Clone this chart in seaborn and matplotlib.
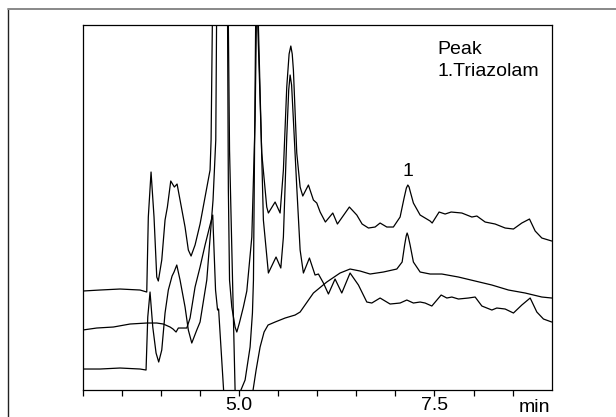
import numpy as np
import pandas as pd
import matplotlib
matplotlib.use("Agg")
import matplotlib.pyplot as plt
from matplotlib.lines import Line2D
import matplotlib.transforms as mtransforms
import seaborn as sns

# retention time (min) and detector signal (arbitrary units, axis bottom = 0)
# sample trace (top)
t_sample = [3.000, 3.221, 3.477, 3.733, 3.819, 3.839, 3.874, 3.912, 3.947, 3.967,
            4.011, 4.053, 4.083, 4.126, 4.172, 4.207, 4.245, 4.309, 4.351, 4.386,
            4.437, 4.501, 4.565, 4.629, 4.642, 4.658, 4.757, 4.853, 4.863, 4.878,
            4.907, 4.949, 4.971, 5.004, 5.055, 5.099, 5.163, 5.205, 5.221, 5.230,
            5.239, 5.290, 5.354, 5.375, 5.461, 5.525, 5.567, 5.610, 5.640, 5.662,
            5.680, 5.695, 5.738, 5.781, 5.815, 5.887, 5.951, 5.994, 6.037, 6.104,
            6.199, 6.258, 6.411, 6.506, 6.574, 6.655, 6.740, 6.804, 6.890, 6.974,
            7.060, 7.111, 7.140, 7.159, 7.175, 7.188, 7.230, 7.316, 7.444, 7.470,
            7.559, 7.636, 7.713, 7.850, 7.978, 8.042, 8.148, 8.276, 8.404, 8.510,
            8.617, 8.715, 8.788, 8.873, 9.000]
s_sample = [99, 100, 101, 100, 98, 173, 218, 173, 113, 109,
            130, 170, 183, 209, 203, 206, 190, 163, 140, 134,
            145, 166, 193, 220, 250, 365, 640, 365, 200, 110,
            83, 63, 58, 67, 83, 99, 153, 270, 365, 540,
            365, 237, 183, 177, 188, 177, 220, 303, 336, 344,
            336, 320, 237, 203, 194, 205, 190, 187, 178, 168,
            177, 166, 183, 175, 166, 162, 163, 167, 163, 163,
            173, 192, 202, 205, 203, 199, 187, 175, 169, 167,
            178, 176, 178, 177, 173, 174, 168, 166, 162, 161,
            167, 171, 159, 152, 149]

# gradient blank (middle)
t_blank = [3.000, 3.179, 3.392, 3.605, 3.819, 3.947, 4.031, 4.117, 4.155, 4.194,
           4.223, 4.331, 4.373, 4.437, 4.501, 4.565, 4.629, 4.663, 4.699, 4.725,
           4.738, 4.802, 4.987, 5.179, 5.218, 5.269, 5.320, 5.371, 5.461, 5.589,
           5.717, 5.781, 5.951, 6.122, 6.292, 6.420, 6.548, 6.676, 6.846, 7.018,
           7.086, 7.118, 7.138, 7.150, 7.163, 7.188, 7.230, 7.316, 7.444, 7.594,
           7.806, 8.020, 8.234, 8.446, 8.660, 8.873, 9.000]
s_blank = [60, 62, 63, 66, 67, 67, 66, 63, 61, 58,
           62, 62, 72, 103, 123, 145, 165, 175, 100, 80,
           81, 0, -110, 0, 20, 43, 58, 65, 68, 72,
           75, 78, 97, 108, 117, 121, 119, 116, 118, 121,
           128, 145, 154, 157, 154, 145, 128, 118, 116, 116,
           113, 109, 105, 100, 97, 93, 92]

# matrix blank (bottom)
t_matrix = [3.000, 3.221, 3.477, 3.733, 3.810, 3.832, 3.861, 3.896, 3.938, 3.972,
            4.011, 4.053, 4.095, 4.143, 4.168, 4.203, 4.245, 4.309, 4.351, 4.395,
            4.459, 4.501, 4.587, 4.667, 4.702, 4.712, 4.782, 4.863, 4.878, 4.949,
            4.981, 5.013, 5.077, 5.141, 5.171, 5.184, 5.199, 5.212, 5.230, 5.247,
            5.311, 5.375, 5.473, 5.534, 5.567, 5.610, 5.635, 5.653, 5.672, 5.695,
            5.738, 5.781, 5.823, 5.900, 5.972, 6.015, 6.079, 6.143, 6.228, 6.314,
            6.420, 6.527, 6.634, 6.698, 6.804, 6.932, 7.060, 7.146, 7.230, 7.316,
            7.380, 7.466, 7.585, 7.658, 7.722, 7.806, 7.934, 8.020, 8.106, 8.234,
            8.297, 8.404, 8.510, 8.617, 8.724, 8.809, 8.894, 9.000]
s_matrix = [21, 21, 22, 21, 20, 73, 98, 63, 37, 28,
            40, 77, 100, 114, 118, 125, 110, 83, 60, 47,
            60, 68, 110, 190, 250, 365, 640, 365, 240, 0,
            -40, -2, 10, 43, 77, 110, 250, 365, 490, 365,
            170, 117, 133, 122, 153, 253, 300, 315, 305, 270,
            203, 140, 117, 132, 115, 116, 107, 96, 111, 97,
            117, 105, 88, 87, 92, 86, 87, 90, 87, 88,
            87, 84, 95, 92, 93, 91, 92, 93, 84, 80,
            82, 81, 77, 85, 92, 78, 71, 68]

tick_pos = np.arange(3.0, 9.0, 0.5)
tick_lab = ["", "", "", "", "5.0", "", "", "", "", "7.5", "", ""]

sns.set_style("white")
plt.rcParams["font.family"] = ["Liberation Sans", "DejaVu Sans"]
plt.rcParams["text.color"] = "black"
plt.rcParams["xtick.color"] = "black"
plt.rcParams["xtick.labelcolor"] = "black"
plt.rcParams["axes.edgecolor"] = "black"
fsize = 14

fig = plt.figure(figsize=(6.16, 4.17), dpi=100)
ax = fig.add_axes([0.1343, 0.0647, 0.7614, 0.8753])

for tt, ss in ((t_sample, s_sample), (t_blank, s_blank), (t_matrix, s_matrix)):
    df = pd.DataFrame({"t": tt, "s": ss})
    sns.lineplot(data=df, x="t", y="s", ax=ax, sort=False, estimator=None,
                 color="black", linewidth=0.9)

ax.set_xlim(3.0, 9.0)
ax.set_ylim(0, 365)
ax.set_xlabel("")
ax.set_ylabel("")
ax.set_yticks([])
ax.set_xticks(tick_pos)
ax.set_xticklabels(tick_lab, fontsize=fsize)
ax.tick_params(axis="x", direction="out", length=4.5, width=0.9, pad=0.8,
               bottom=True, colors="black")
for sp in ax.spines.values():
    sp.set_color("black")
    sp.set_linewidth(0.9)

trans = mtransforms.blended_transform_factory(ax.transData, ax.transAxes)
ax.text(8.78, -0.024, "min", transform=trans, ha="center", va="top", fontsize=fsize)

ax.text(0.757, 0.932, "Peak", transform=ax.transAxes, ha="left", va="center", fontsize=fsize)
ax.text(0.757, 0.872, "1.Triazolam", transform=ax.transAxes, ha="left", va="center", fontsize=fsize)
ax.text(7.16, 219, "1", ha="center", va="center", fontsize=fsize)

# outer frame of the panel
fig.add_artist(Line2D([7.7 / 616, 7.7 / 616], [0, 1 - 9 / 417], transform=fig.transFigure,
                      color="#222222", linewidth=1.0))
fig.add_artist(Line2D([7.7 / 616, 1], [1 - 9 / 417, 1 - 9 / 417], transform=fig.transFigure,
                      color="#888888", linewidth=1.4))

fig.savefig("out.png", dpi=100)
